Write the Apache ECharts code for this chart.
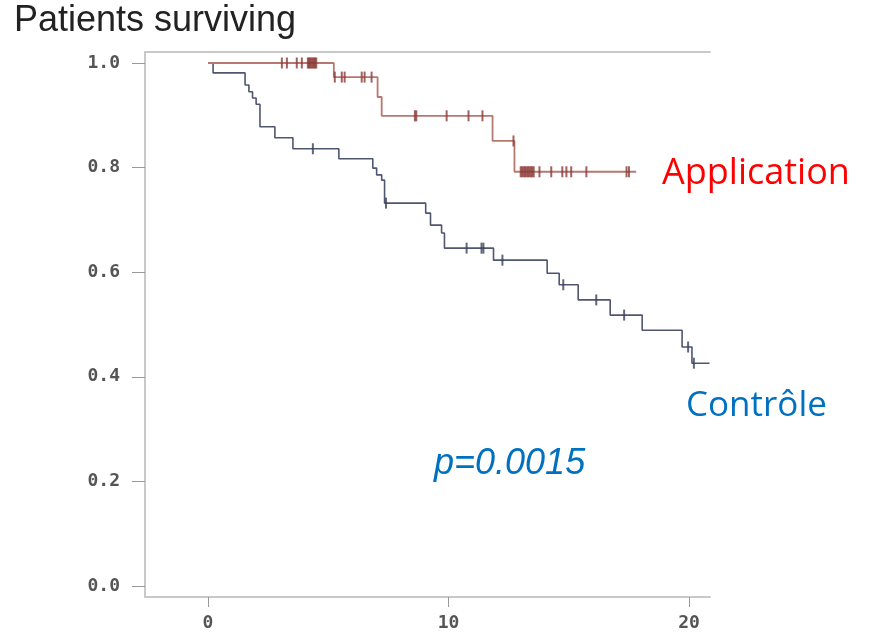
<!DOCTYPE html>
<html><head><meta charset="utf-8">
<script src="https://cdn.jsdelivr.net/npm/echarts@6/dist/echarts.min.js"></script>
<style>html,body{margin:0;padding:0;background:#fff}#c{width:871px;height:634px}</style>
</head><body><div id="c"></div>
<script>
// ---- data ----
const yTicks = [0, 0.2, 0.4, 0.6, 0.8, 1.0];
const xTicks = [0, 10, 20];
// Application (Kaplan-Meier steps: time, survival after that time)
const appSteps = [[0,1.0],[5.23,0.973],[7.05,0.935],[7.22,0.899],[11.83,0.851],[12.74,0.792],[17.8,0.792]];
const appCensor = [3.07,3.28,3.69,3.9,4.15,4.2,4.25,4.3,4.35,4.4,4.45,4.5,5.27,5.56,5.68,6.39,6.51,6.8,8.6,8.66,9.92,10.83,11.41,12.7,13.0,13.06,13.12,13.18,13.24,13.3,13.36,13.42,13.48,13.54,13.78,14.27,14.73,14.9,15.1,15.73,17.4,17.5];
// Contrôle
const ctlSteps = [[0,1.0],[0.21,0.981],[1.54,0.958],[1.7,0.945],[1.85,0.933],[2.0,0.921],[2.16,0.878],[2.78,0.857],[3.53,0.836],[5.44,0.817],[6.85,0.799],[7.01,0.786],[7.22,0.776],[7.34,0.732],[9.05,0.713],[9.25,0.69],[9.71,0.675],[9.83,0.646],[11.87,0.623],[14.1,0.598],[14.6,0.576],[15.39,0.547],[16.72,0.518],[18.05,0.489],[19.71,0.457],[20.12,0.426],[20.85,0.426]];
const ctlCensor = [4.36,7.4,10.75,11.37,11.45,12.24,14.77,16.14,17.3,19.96,20.2];

function survAt(steps, t) {
  let v = steps[0][1];
  for (const [x, y] of steps) { if (x <= t) v = y; }
  return v;
}

const XMIN = -2.62, XMAX = 20.87, YMIN = -0.021, YMAX = 1.021;
const axisGray = '#c8c8c8';
const labelStyle = {fontFamily: 'DejaVu Sans Mono', fontSize: 18, fontWeight: 'bold', color: '#555'};

const chart = echarts.init(document.getElementById('c'), null, {renderer: 'canvas'});
chart.setOption({
  animation: false,
  backgroundColor: '#fff',
  grid: {left: 145, right: 161, top: 52, bottom: 37, containLabel: false},
  xAxis: [{
    type: 'value', min: XMIN, max: XMAX,
    axisLine: {show: true, onZero: false, lineStyle: {color: axisGray, width: 2}},
    axisTick: {show: true, customValues: xTicks, length: 10, lineStyle: {color: '#999', width: 1}},
    axisLabel: Object.assign({customValues: xTicks, margin: 17}, labelStyle),
    splitLine: {show: false}
  }, {
    type: 'value', position: 'top', min: XMIN, max: XMAX,
    axisLine: {show: true, onZero: false, lineStyle: {color: axisGray, width: 2}},
    axisTick: {show: false}, axisLabel: {show: false}, splitLine: {show: false}
  }],
  yAxis: {
    type: 'value', min: YMIN, max: YMAX,
    axisLine: {show: true, onZero: false, lineStyle: {color: axisGray, width: 2}},
    axisTick: {show: true, customValues: yTicks, length: 13, lineStyle: {color: '#999', width: 1}},
    axisLabel: Object.assign({customValues: yTicks, margin: 25, formatter: v => v.toFixed(1)}, labelStyle),
    splitLine: {show: false}
  },
  series: [
    {type: 'line', name: 'Contrôle', step: 'end', data: ctlSteps, showSymbol: false,
      lineStyle: {color: '#4f5670', width: 1.6}, z: 2},
    {type: 'scatter', data: ctlCensor.map(t => [t, survAt(ctlSteps, t)]),
      symbol: 'rect', symbolSize: [2, 11], itemStyle: {color: '#3b4159'}, z: 3},
    {type: 'line', name: 'Application', step: 'end', data: appSteps, showSymbol: false,
      lineStyle: {color: '#b87872', width: 1.8}, z: 4},
    {type: 'scatter', data: appCensor.map(t => [t, survAt(appSteps, t)]),
      symbol: 'rect', symbolSize: [2, 11], itemStyle: {color: '#8b3a36'}, z: 5}
  ],
  graphic: [
    {type: 'text', left: 14, top: 3, style: {text: 'Patients surviving', font: '36px "Liberation Sans", Arial, sans-serif', fill: '#222'}},
    {type: 'text', x: 662, y: 174, style: {text: 'Application', font: '36px "Open Sans", sans-serif', fill: '#ff0000', verticalAlign: 'middle'}},
    {type: 'text', x: 686, y: 406, style: {text: 'Contrôle', font: '35px "Open Sans", sans-serif', fill: '#0070c0', verticalAlign: 'middle'}},
    {type: 'text', x: 434, y: 464, style: {text: 'p=0.0015', font: 'italic 36px "Liberation Sans", Arial, sans-serif', fill: '#0070c0', verticalAlign: 'middle'}}
  ]
});
</script>
</body></html>
